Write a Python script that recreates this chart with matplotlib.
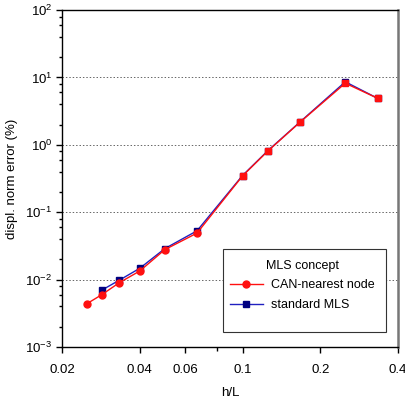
import matplotlib
matplotlib.use("Agg")
import matplotlib.pyplot as plt
from matplotlib.ticker import FixedLocator, FixedFormatter, LogLocator, LogFormatterMathtext, NullFormatter
from matplotlib.lines import Line2D
from matplotlib.patches import Rectangle

plt.rcParams['font.family'] = ['Liberation Sans', 'DejaVu Sans']
plt.rcParams['mathtext.fontset'] = 'custom'
plt.rcParams['mathtext.rm'] = 'Liberation Sans'

h_can = [1/40, 1/35, 1/30, 1/25, 1/20, 1/15, 1/10, 1/8, 1/6, 1/4, 1/3]
err_can = [0.0044, 0.0060, 0.0090, 0.0134, 0.0278, 0.049, 0.345, 0.80, 2.15, 8.2, 4.9]
h_mls = [1/35, 1/30, 1/25, 1/20, 1/15, 1/10, 1/8, 1/6, 1/4, 1/3]
err_mls = [0.0070, 0.0098, 0.0147, 0.0288, 0.053, 0.35, 0.81, 2.17, 8.6, 4.9]
xticks = [0.02, 0.04, 0.06, 0.1, 0.2, 0.4]
xticklabels = ['0.02', '0.04', '0.06', '0.1', '0.2', '0.4']

W, H = 406, 401
L, R, T, B = 62, 398, 10, 347
fig = plt.figure(figsize=(W / 100, H / 100), dpi=100)
ax = fig.add_axes([L / W, 1 - B / H, (R - L) / W, (B - T) / H])

def axx(px):
    return (px - L) / (R - L)

def axy(py):
    return (B - py) / (B - T)

red = '#ff1010'
navy = '#000080'
blue = '#2020c0'

ax.plot(h_mls, err_mls, color=blue, lw=1.0, marker='s', ms=4.6,
        mfc=navy, mec=navy, zorder=3)
ax.plot(h_can, err_can, color=red, lw=1.0, zorder=4)
ax.plot(h_can[:6], err_can[:6], ls='none', marker='o', ms=5, mfc=red, mec=red, zorder=5)
ax.plot(h_can[6:], err_can[6:], ls='none', marker='s', ms=4.6, mfc=red, mec=red, zorder=5)

ax.set_xscale('log')
ax.set_yscale('log')
ax.set_xlim(0.02, 0.4)
ax.set_ylim(1e-3, 1e2)

ax.xaxis.set_major_locator(FixedLocator(xticks))
ax.xaxis.set_major_formatter(FixedFormatter(xticklabels))
ax.xaxis.set_minor_locator(FixedLocator([0.08]))
ax.xaxis.set_minor_formatter(NullFormatter())
ax.tick_params(axis='x', which='major', direction='out', length=4, width=1, labelsize=9.5, pad=8)
ax.tick_params(axis='x', which='minor', direction='out', length=3, width=1)

ax.yaxis.set_major_locator(LogLocator(base=10, numticks=10))
ax.yaxis.set_major_formatter(LogFormatterMathtext())
ax.yaxis.set_minor_locator(LogLocator(base=10, subs=[2, 4, 6, 8], numticks=10))
ax.yaxis.set_minor_formatter(NullFormatter())
ax.tick_params(axis='y', which='major', direction='out', length=4, width=1, labelsize=9.5, pad=3)
ax.tick_params(axis='y', which='minor', direction='out', length=2.5, width=1)

for yv in [1e-2, 1e-1, 1e0, 1e1]:
    ax.axhline(yv, color='#666666', lw=0.7, ls=(0, (1.5, 2)), zorder=1)

for s in ['left', 'bottom', 'top']:
    ax.spines[s].set_color('black')
    ax.spines[s].set_linewidth(1.0)
ax.spines['right'].set_color('#777777')
ax.spines['right'].set_linewidth(1.8)

ax.set_xlabel('h/L', fontsize=9.5, labelpad=8)
ax.set_ylabel('displ. norm error (%)', fontsize=9.5, labelpad=5)

# legend frame
ax.add_patch(Rectangle((axx(223), axy(332)), axx(386) - axx(223), axy(249) - axy(332),
                       transform=ax.transAxes, facecolor='white', edgecolor='#333333',
                       lw=0.8, zorder=6))

handles = [Line2D([], [], color=red, lw=1.0, marker='o', ms=5, mfc=red, mec=red),
           Line2D([], [], color=blue, lw=1.0, marker='s', ms=4.6, mfc=navy, mec=navy)]
leg = ax.legend(handles, ['CAN-nearest node', 'standard MLS'], title='MLS concept',
                loc='upper left', bbox_to_anchor=(axx(230), axy(260)),
                fontsize=9, title_fontsize=9, frameon=False,
                borderpad=0, handlelength=2.6, handletextpad=0.7,
                labelspacing=0.6, borderaxespad=0)
leg.set_zorder(7)
leg._legend_box.align = 'center'

fig.savefig('out.png', dpi=100)
